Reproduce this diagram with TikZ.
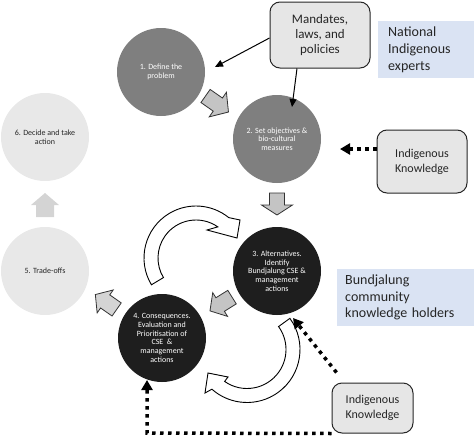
\documentclass[tikz,border=0pt]{standalone}
\usepackage{fontspec}
\setmainfont{Carlito}
\usetikzlibrary{arrows.meta,calc}
\definecolor{midgray}{HTML}{7F7F7F}
\definecolor{darkcirc}{HTML}{1E1E1E}
\definecolor{lightcirc}{HTML}{E8E8E8}
\definecolor{boxgray}{HTML}{E6E6E6}
\definecolor{bluebox}{HTML}{DAE3F3}
\definecolor{arrowgray}{HTML}{C4C4C4}
\definecolor{arrowlight}{HTML}{D4D4D4}
\definecolor{textdark}{HTML}{262626}
\tikzset{
  circ/.style={circle, minimum size=88pt, inner sep=0pt, align=center,
    font=\fontsize{8}{8.7}\selectfont},
  dcirc/.style={circ, fill=midgray, text=white},
  bcirc/.style={circ, fill=darkcirc, text=white},
  lcirc/.style={circ, fill=lightcirc, text=textdark},
  grbox/.style={draw=black!85, line width=1pt, fill=boxgray, rounded corners=10pt,
    align=center, inner sep=0pt, text=textdark},
  bluenote/.style={fill=bluebox, align=left, inner sep=0pt, text=textdark,
    anchor=north west},
  blockarr/.style={fill=arrowgray, draw=black!80, line width=0.8pt, line join=miter},
  blockarrlight/.style={fill=arrowlight, draw=none},
  curvarr/.style={fill=white, draw=black, line width=0.9pt, line join=miter},
  dotarrow/.style={line width=3.5pt, dash pattern=on 3.5pt off 4.5pt,
    -{Triangle[length=10pt,width=11pt]}},
  solidarrow/.style={line width=1pt, -{Triangle[length=8pt,width=7pt]}}
}
\begin{document}
\begin{tikzpicture}[x=1pt,y=1pt]
\useasboundingbox (0,0) rectangle (474,-439);

% circles
\node[dcirc] (c1) at (161,-72) {1. Define the\\problem};
\node[dcirc] (c2) at (277,-139) {2. Set objectives \&\\bio-cultural\\measures};
\node[bcirc] (c3) at (277,-271) {3. Alternatives.\\Identify\\Bundjalung CSE \&\\management\\actions};
\node[bcirc] (c4) at (162,-338) {4. Consequences.\\Evaluation and\\Prioritisation of\\CSE \ \&\\management\\actions};
\node[lcirc] (c5) at (45,-271) {5. Trade-offs};
\node[lcirc] (c6) at (45,-137) {6. Decide and take\\action};

% block arrows
\draw[blockarr, shift={(217,-104)}, rotate=-35]
  (-14,-8) -- (1,-8) -- (1,-15) -- (14,0) -- (1,15) -- (1,8) -- (-14,8) -- cycle;
\draw[blockarr, shift={(277,-204)}, rotate=-90]
  (-11,-7.5) -- (1,-7.5) -- (1,-15.5) -- (11,0) -- (1,15.5) -- (1,7.5) -- (-11,7.5) -- cycle;
\draw[blockarr, shift={(221,-304)}, rotate=212]
  (-13,-8) -- (1,-8) -- (1,-14) -- (13,0) -- (1,14) -- (1,8) -- (-13,8) -- cycle;
\draw[blockarr, fill=arrowlight, shift={(106,-302)}, rotate=145]
  (-13,-8) -- (1,-8) -- (1,-14) -- (13,0) -- (1,14) -- (1,8) -- (-13,8) -- cycle;
\fill[blockarrlight, shift={(45,-205)}, rotate=90]
  (-12,-9) -- (0,-9) -- (0,-14) -- (12,0) -- (0,14) -- (0,9) -- (-12,9) -- cycle;

% curved arrows
\coordinate (U) at (196,-258);
\coordinate (L) at (247,-349.5);
\draw[curvarr] ($(U)+(211:52)$) arc[start angle=211, end angle=51, radius=52]
  -- (240,-220) -- (237,-238) -- (207,-230)
  -- ($(U)+(55:38)$) arc[start angle=55, end angle=211, radius=38] -- cycle;
\draw[curvarr] ($(L)+(36:53)$) arc[start angle=36, end angle=-131.5, radius=53]
  -- (205,-393) -- (208,-373) -- (228,-377)
  -- ($(L)+(-125:39)$) arc[start angle=-125, end angle=36, radius=39] -- cycle;

% boxes
\node[grbox, minimum width=100pt, minimum height=66pt,
  font=\fontsize{13}{15}\selectfont] (mand) at (320,-35) {Mandates,\\laws, and\\policies};
\node[bluenote, minimum width=87pt, minimum height=57pt, text width=77pt,
  inner xsep=10pt, font=\fontsize{14}{17}\selectfont] (nat) at (378,-21)
  {National\\Indigenous\\experts};
\node[grbox, minimum width=90pt, minimum height=63pt,
  font=\fontsize{12}{15}\selectfont] (ik1) at (422,-161.5) {Indigenous\\Knowledge};
\node[bluenote, minimum width=134pt, minimum height=57pt, text width=126pt,
  inner xsep=8pt, font=\fontsize{14}{16.5}\selectfont] (bund) at (337,-269)
  {Bundjalung\\community\\knowledge holders};
\node[grbox, minimum width=81pt, minimum height=50pt,
  font=\fontsize{12}{15}\selectfont] (ik2) at (372.5,-408) {Indigenous\\Knowledge};

% connectors
\coordinate (m1) at (215,-67);
\coordinate (m2) at (292,-107);
\draw[solidarrow] ([yshift=-3pt]mand.west) -- (m1);
\draw[solidarrow] ([xshift=-23pt]mand.south) -- (m2);

\coordinate (d1) at (340,-149);
\draw[dotarrow] ([yshift=12.5pt]ik1.west) -- (d1);
\coordinate (d2) at (293,-318);
\draw[dotarrow] ([shift={(5pt,10pt)}]ik2.north west) -- (d2);
\coordinate (d3) at (147,-433);
\coordinate (d4) at (147,-380);
\draw[dotarrow] (ik2.south west) -- (d3) -- (d4);
\end{tikzpicture}
\end{document}
